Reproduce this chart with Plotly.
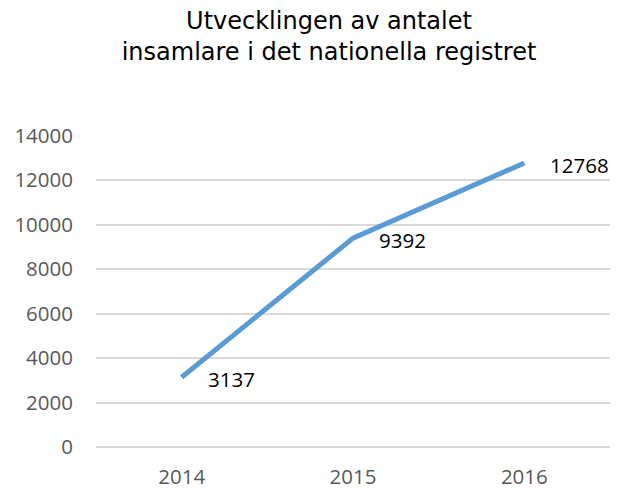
import plotly.graph_objects as go

years = ["2014", "2015", "2016"]
counts = [3137, 9392, 12768]
y_ticks = [0, 2000, 4000, 6000, 8000, 10000, 12000, 14000]

fig = go.Figure()
fig.add_trace(go.Scatter(
    x=years, y=counts, mode="lines",
    line=dict(color="#5B9BD5", width=5),
    hoverinfo="skip", showlegend=False,
))
for i, y in enumerate(counts):
    fig.add_annotation(
        x=i, y=y, text=str(y), showarrow=False,
        xanchor="left", yanchor="middle", xshift=24, yshift=-2,
        font=dict(family="Open Sans, sans-serif", size=20.5, color="#000000"),
    )

fig.update_layout(
    width=616, height=483,
    margin=dict(l=88, r=14, t=127, b=44),
    paper_bgcolor="white", plot_bgcolor="white",
    title=dict(
        text="Utvecklingen av antalet<br>insamlare i det nationella registret",
        x=(329 - 8) / 616, xanchor="center", xref="container",
        y=1 - 20.5 / 483, yanchor="top", yref="container",
        font=dict(family="DejaVu Sans, sans-serif", size=24, color="#000000"),
    ),
    xaxis=dict(
        type="category", range=[-0.5, 2.5], automargin=False,
        showgrid=False, zeroline=False, showline=False,
        ticklabelstandoff=15,
        tickfont=dict(family="Open Sans, sans-serif", size=20.5, color="#595959"),
    ),
    yaxis=dict(
        range=[0, 14030], tickvals=y_ticks, ticktext=[str(v) for v in y_ticks],
        automargin=False,
        showgrid=True, gridcolor="#D9D9D9", gridwidth=1.5,
        zeroline=True, zerolinecolor="#D9D9D9", zerolinewidth=1.5,
        showline=False, ticklabelstandoff=22,
        tickfont=dict(family="Open Sans, sans-serif", size=20.5, color="#595959"),
    ),
)

fig.write_html("out.html")
